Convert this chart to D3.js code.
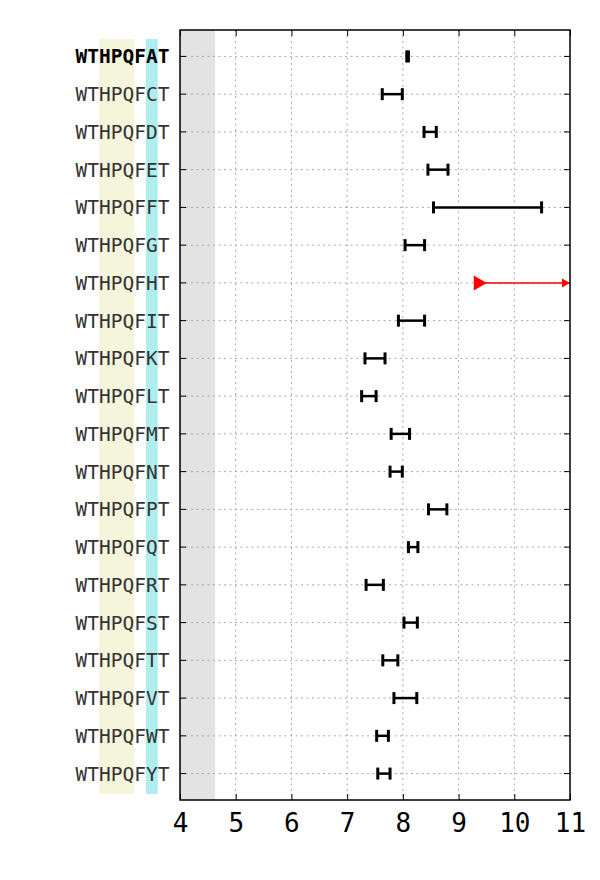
<!DOCTYPE html>
<html><head><meta charset="utf-8">
<script src="https://cdn.jsdelivr.net/npm/d3@7"></script>
<style>body{margin:0;background:#fff}</style>
</head><body>
<script>
const categories = ["WTHPQFAT","WTHPQFCT","WTHPQFDT","WTHPQFET","WTHPQFFT","WTHPQFGT","WTHPQFHT","WTHPQFIT","WTHPQFKT","WTHPQFLT","WTHPQFMT","WTHPQFNT","WTHPQFPT","WTHPQFQT","WTHPQFRT","WTHPQFST","WTHPQFTT","WTHPQFVT","WTHPQFWT","WTHPQFYT"];
const lowerValues = [8.07,7.63,8.38,8.45,8.55,8.04,9.38,7.92,7.32,7.26,7.79,7.77,8.46,8.10,7.34,8.02,7.64,7.84,7.53,7.55];
const upperValues = [8.10,7.99,8.60,8.81,10.49,8.39,null,8.39,7.68,7.52,8.12,7.99,8.79,8.27,7.65,8.26,7.91,8.25,7.74,7.77];
const xTicks = [4,5,6,7,8,9,10,11];
const shadedLimit = 4.63;
const boldIndex = 0;

const W = 600, H = 880;
const m = {left:180, right:570, top:30, bottom:800};
const svg = d3.select("body").append("svg").attr("width",W).attr("height",H);

const x = d3.scaleLinear().domain([4,11]).range([m.left,m.right]);
const y = d3.scaleLinear().domain([-0.7,categories.length-0.3]).range([m.top,m.bottom]);

const mono = "'DejaVu Sans Mono', monospace";
const fs = 19.5, cw = fs*0.602;
const labelRight = 169.5;
const labelLeft = labelRight - 8*cw;

// highlight columns behind labels
svg.append("rect").attr("x",labelLeft+2*cw).attr("width",3*cw).attr("y",39).attr("height",794-39).attr("fill","#f5f5dc");
svg.append("rect").attr("x",labelLeft+6*cw).attr("width",cw).attr("y",39).attr("height",794-39).attr("fill","#afeeee");

// shaded region
svg.append("rect").attr("x",x(4)).attr("width",x(shadedLimit)-x(4)).attr("y",m.top).attr("height",m.bottom-m.top).attr("fill","#e3e3e3");

// grid
const g = svg.append("g");
g.selectAll(".vg").data(xTicks.slice(1,-1)).join("line")
 .attr("x1",d=>x(d)).attr("x2",d=>x(d)).attr("y1",m.top).attr("y2",m.bottom)
 .attr("stroke","#a8a8a8").attr("stroke-width",1).attr("stroke-dasharray","2,3.5");
g.selectAll(".hg").data(categories).join("line")
 .attr("x1",m.left).attr("x2",m.right).attr("y1",(d,i)=>y(i)).attr("y2",(d,i)=>y(i))
 .attr("stroke","#a8a8a8").attr("stroke-width",1).attr("stroke-dasharray","2,3.5");

// axes ticks (inward)
const tl = 6;
const axB = d3.axisBottom(x).tickValues(xTicks).tickFormat(d3.format("d")).tickSizeInner(-tl).tickSizeOuter(0).tickPadding(14);
const gb = svg.append("g").attr("transform",`translate(0,${m.bottom})`).call(axB);
gb.select(".domain").remove();
gb.selectAll("text").attr("font-family",mono).attr("font-size",26).attr("fill","#000").attr("dy","0.71em");
gb.selectAll("line").attr("stroke","#000");
const axT = d3.axisTop(x).tickValues(xTicks).tickSizeInner(-tl).tickSizeOuter(0).tickFormat("");
const gt = svg.append("g").attr("transform",`translate(0,${m.top})`).call(axT);
gt.select(".domain").remove(); gt.selectAll("line").attr("stroke","#000");

const yi = d3.range(categories.length);
svg.selectAll(".ytl").data(yi).join("line").attr("x1",m.left).attr("x2",m.left+tl).attr("y1",d=>y(d)).attr("y2",d=>y(d)).attr("stroke","#000");
svg.selectAll(".ytr").data(yi).join("line").attr("x1",m.right-tl).attr("x2",m.right).attr("y1",d=>y(d)).attr("y2",d=>y(d)).attr("stroke","#000");

// labels
svg.selectAll(".lab").data(categories).join("text")
 .attr("x",labelRight).attr("y",(d,i)=>y(i)).attr("dy","0.36em")
 .attr("text-anchor","end").attr("font-family",mono).attr("font-size",fs)
 .attr("font-weight",(d,i)=>i===boldIndex?"bold":"normal")
 .attr("fill",(d,i)=>i===boldIndex?"#000":"#333").text(d=>d);

// error bars
const capH = 6;
categories.forEach((c,i)=>{
  const lo = lowerValues[i], hi = upperValues[i], yy = y(i);
  if (hi === null) {
    const x0 = x(lo), x1 = x(11);
    svg.append("line").attr("x1",x0).attr("x2",x1-4).attr("y1",yy).attr("y2",yy).attr("stroke","red").attr("stroke-width",1.5);
    svg.append("path").attr("d",`M${x1},${yy} L${x1-8},${yy-4.5} L${x1-8},${yy+4.5} Z`).attr("fill","red");
    svg.append("path").attr("d",`M${x0+7},${yy} L${x0-6},${yy-7.5} L${x0-6},${yy+7.5} Z`).attr("fill","red");
  } else {
    const gg = svg.append("g").attr("stroke","#000").attr("stroke-width",2.5);
    gg.append("line").attr("x1",x(lo)).attr("x2",x(hi)).attr("y1",yy).attr("y2",yy);
    gg.append("line").attr("x1",x(lo)).attr("x2",x(lo)).attr("y1",yy-capH).attr("y2",yy+capH).attr("stroke-width",3);
    gg.append("line").attr("x1",x(hi)).attr("x2",x(hi)).attr("y1",yy-capH).attr("y2",yy+capH).attr("stroke-width",3);
  }
});

// frame
svg.append("rect").attr("x",m.left).attr("y",m.top).attr("width",m.right-m.left).attr("height",m.bottom-m.top)
 .attr("fill","none").attr("stroke","#000").attr("stroke-width",1.5);
</script>
</body></html>
